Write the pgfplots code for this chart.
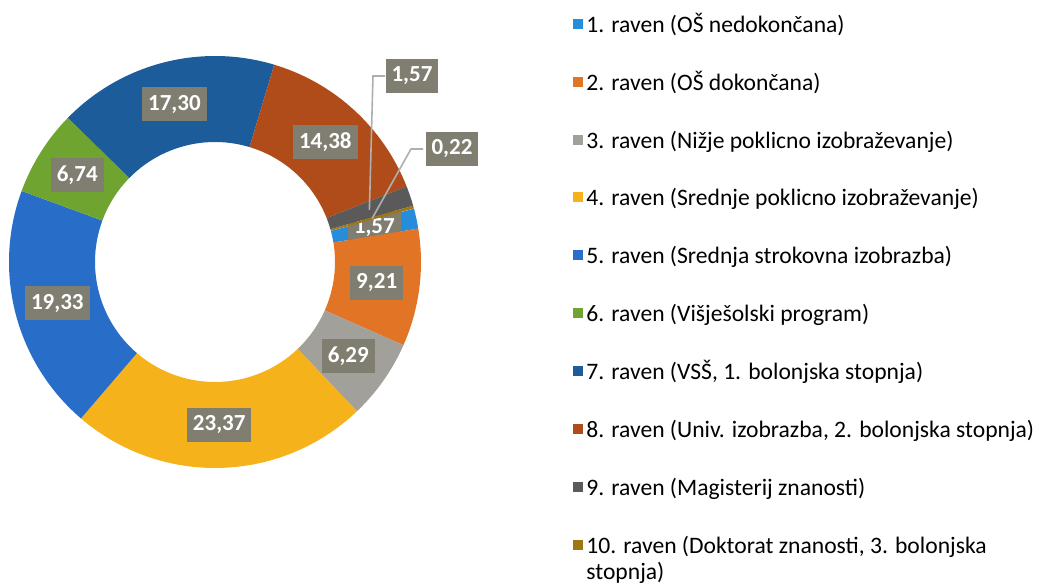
\documentclass[border=0pt]{standalone}
\usepackage{pgfplots}
\pgfplotsset{compat=1.18}
\usepackage{pgfplotstable}
\usepackage{fontspec}
\setmainfont{Carlito}

% slice colours, level 1 ... 10
\definecolor{c0}{RGB}{38,140,220}
\definecolor{c1}{RGB}{226,116,38}
\definecolor{c2}{RGB}{162,160,154}
\definecolor{c3}{RGB}{246,178,26}
\definecolor{c4}{RGB}{40,110,200}
\definecolor{c5}{RGB}{112,164,48}
\definecolor{c6}{RGB}{28,92,155}
\definecolor{c7}{RGB}{176,76,26}
\definecolor{c8}{RGB}{90,90,90}
\definecolor{c9}{RGB}{160,118,20}
\definecolor{lblbox}{RGB}{128,126,112}
\definecolor{leader}{RGB}{175,175,175}

% share of each level (%)
\pgfplotstableread{
lvl val
1  1.57
2  9.21
3  6.29
4  23.37
5  19.33
6  6.74
7  17.30
8  14.38
9  1.57
10 0.22
}\levels

\pgfkeys{/pgf/number format/.cd, fixed, fixed zerofill, precision=2, use comma, assume math mode=true}

\tikzset{lbl/.style={fill=lblbox, text=white, font=\fontsize{11.5}{13}\selectfont\bfseries,
    inner xsep=3pt, inner ysep=0pt, minimum height=17pt}}

% legend row: number, colour, baseline (image px from top), text
\newcommand\legrow[4]{%
  \fill[#2] (axis cs:573,{584-#3+14}) rectangle (axis cs:583,{584-#3+4});
  \node[anchor=base west, inner sep=0pt, font=\fontsize{11.8}{13}\selectfont]
    at (axis cs:586,{584-#3}) {#4};
}

\begin{document}
\begin{tikzpicture}
\useasboundingbox (0,0) rectangle (520.5pt,292pt);
\begin{axis}[
  at={(0,0)}, anchor=origin,
  x=0.5pt, y=0.5pt,
  xmin=0, xmax=1041, ymin=0, ymax=584,
  hide axis, clip=false,
]
\addplot[draw=none] coordinates {(0,0) (1041,584)};

\pgfplotsextra{
  \gdef\angA{15}
  \foreach \i in {0,...,9}{
    \pgfplotstablegetelem{\i}{val}\of\levels
    \pgfmathsetmacro\v{\pgfplotsretval}
    \pgfmathsetmacro\angB{\angA-3.6*\v}
    \pgfmathsetmacro\angM{(\angA+\angB)/2}
    \fill[c\i] (axis cs:{215+206*cos(\angA)},{322+206*sin(\angA)})
      arc[start angle=\angA, end angle=\angB, radius=103pt]
      -- (axis cs:{215+120*cos(\angB)},{322+120*sin(\angB)})
      arc[start angle=\angB, end angle=\angA, radius=60pt] -- cycle;
    \ifnum\i<8
      \node[lbl] at (axis cs:{215+163*cos(\angM)},{322+163*sin(\angM)}) {\pgfmathprintnumber{\v}};
    \else
      \ifnum\i=8
        \draw[leader, line width=0.8pt] (axis cs:{215+163*cos(\angM)},{322+163*sin(\angM)})
          -- (axis cs:373,508) -- (axis cs:385,508);
        \node[lbl] at (axis cs:412,508) {\pgfmathprintnumber{\v}};
      \else
        \draw[leader, line width=0.8pt] (axis cs:{215+163*cos(\angM)},{322+163*sin(\angM)})
          -- (axis cs:411,435) -- (axis cs:423,435);
        \node[lbl] at (axis cs:452,435) {\pgfmathprintnumber{\v}};
      \fi
    \fi
    \xdef\angA{\angB}
  }
}

\legrow{1}{c0}{33}{1. raven (OŠ nedokončana)}
\legrow{2}{c1}{91}{2. raven (OŠ dokončana)}
\legrow{3}{c2}{149}{3. raven (Nižje poklicno izobraževanje)}
\legrow{4}{c3}{206}{4. raven (Srednje poklicno izobraževanje)}
\legrow{5}{c4}{264}{5. raven (Srednja strokovna izobrazba)}
\legrow{6}{c5}{322}{6. raven (Višješolski program)}
\legrow{7}{c6}{380}{7. raven (VSŠ, 1. bolonjska stopnja)}
\legrow{8}{c7}{438}{8. raven (Univ. izobrazba, 2. bolonjska stopnja)}
\legrow{9}{c8}{496}{9. raven (Magisterij znanosti)}
\legrow{10}{c9}{554}{10. raven (Doktorat znanosti, 3. bolonjska}
\node[anchor=base west, inner sep=0pt, font=\fontsize{11.8}{13}\selectfont]
  at (axis cs:586,{584-580}) {stopnja)};
\end{axis}
\end{tikzpicture}
\end{document}
